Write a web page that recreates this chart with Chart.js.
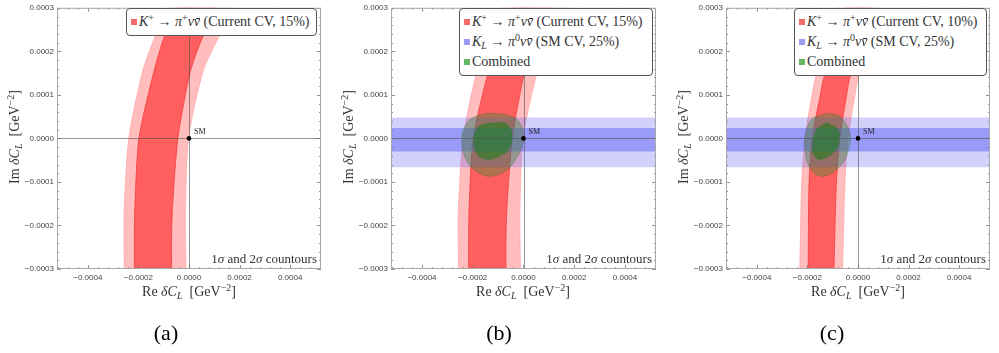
<!DOCTYPE html>
<html>
<head>
<meta charset="utf-8">
<script src="https://cdn.jsdelivr.net/npm/chart.js@4.4.1/dist/chart.umd.min.js"></script>
<style>
  body { margin: 0; background: #fff; width: 999px; height: 353px; position: relative; overflow: hidden;
         font-family: "Liberation Serif", "DejaVu Serif", serif; color: #333; }
  canvas { position: absolute; top: 0; }
  .t { position: absolute; white-space: nowrap; }
  .ytitle { font-size: 14px; transform: translate(-50%, -50%) rotate(-90deg); top: 137px; }
  .xtitle { font-size: 14px; transform: translate(-50%, -50%); top: 292px; }
  .cap { font-size: 22px; color: #000; transform: translate(-50%, -50%); top: 333px; }
  .note { font-size: 13px; line-height: 13px; top: 252px; }
  .legend { position: absolute; top: 8px; box-sizing: border-box; background: #fff;
            border: 1px solid #555; border-radius: 4px; padding: 3px 4px; font-size: 14px; }
  .legend div { height: 20px; line-height: 20px; white-space: nowrap; }
  .sw { display: inline-block; width: 6px; height: 6px; margin-right: 2px; vertical-align: 1px; }
  .bar { position: relative; }
  .bar::after { content: ''; position: absolute; left: 2px; right: 0; top: 0.3em; border-top: 1px solid #333; }
  sup, sub { font-size: 10px; line-height: 0; }
  sup { vertical-align: 0.5em; }
  sub { vertical-align: -0.25em; }
</style>
</head>
<body>
<canvas id="pa" width="333" height="353" style="left:0"></canvas>
<canvas id="pb" width="333" height="353" style="left:333px"></canvas>
<canvas id="pc" width="333" height="353" style="left:666px"></canvas>

<div class="t ytitle" style="left:15px">Im <i>δC<sub>L</sub></i>&nbsp; [GeV<sup>−2</sup>]</div>
<div class="t ytitle" style="left:349px">Im <i>δC<sub>L</sub></i>&nbsp; [GeV<sup>−2</sup>]</div>
<div class="t ytitle" style="left:684px">Im <i>δC<sub>L</sub></i>&nbsp; [GeV<sup>−2</sup>]</div>
<div class="t xtitle" style="left:189px">Re <i>δC<sub>L</sub></i>&nbsp; [GeV<sup>−2</sup>]</div>
<div class="t xtitle" style="left:523px">Re <i>δC<sub>L</sub></i>&nbsp; [GeV<sup>−2</sup>]</div>
<div class="t xtitle" style="left:858px">Re <i>δC<sub>L</sub></i>&nbsp; [GeV<sup>−2</sup>]</div>
<div class="t note" style="right:682px">1<i>σ</i> and 2<i>σ</i> countours</div>
<div class="t note" style="right:347px">1<i>σ</i> and 2<i>σ</i> countours</div>
<div class="t note" style="right:13px">1<i>σ</i> and 2<i>σ</i> countours</div>
<div class="t cap" style="left:166px">(a)</div>
<div class="t cap" style="left:499px">(b)</div>
<div class="t cap" style="left:832px">(c)</div>
<div class="legend" id="la" style="left:126px;width:191px"></div>
<div class="legend" id="lb" style="left:459px;width:194px"></div>
<div class="legend" id="lc" style="left:794px;width:193px"></div>

<script>
// axes
var xMin = -5.22e-4, xMax = 5.22e-4, yMin = -3e-4, yMax = 3e-4;
var xTicks = [-4e-4, -2e-4, 0, 2e-4, 4e-4];
var yTicks = [-3e-4, -2e-4, -1e-4, 0, 1e-4, 2e-4, 3e-4];
var xMinorStep = 0.4e-4, yMinorStep = 0.2e-4;

// K+ -> pi+ nu nu band, current CV 15% (panels a, b): edges read at these Im values
var bandY15  = [-3.0e-4, -2.24e-4, -1.57e-4, 0, 1.53e-4, 2.30e-4, 3.0e-4];
var outerL15 = [-2.56e-4, -2.57e-4, -2.56e-4, -2.38e-4, -1.84e-4, -1.37e-4, -0.82e-4];
var innerL15 = [-2.16e-4, -2.16e-4, -2.14e-4, -1.98e-4, -1.39e-4, -1.00e-4, -0.50e-4];
var innerR15 = [-0.69e-4, -0.69e-4, -0.65e-4, -0.44e-4, 0.05e-4, 0.52e-4, 1.10e-4];
var outerR15 = [-0.12e-4, -0.14e-4, -0.14e-4, -0.02e-4, 0.55e-4, 1.15e-4, 1.85e-4];

// same band, current CV 10% (panel c)
var bandY10  = [-3.0e-4, -1.10e-4, 0, 0.96e-4, 1.35e-4, 2.30e-4, 3.0e-4];
var outerL10 = [-2.30e-4, -2.23e-4, -2.10e-4, -1.83e-4, -1.70e-4, -1.23e-4, -0.83e-4];
var innerL10 = [-1.97e-4, -1.94e-4, -1.82e-4, -1.50e-4, -1.37e-4, -0.87e-4, -0.48e-4];
var innerR10 = [-0.95e-4, -0.86e-4, -0.72e-4, -0.46e-4, -0.34e-4, 0.13e-4, 0.59e-4];
var outerR10 = [-0.61e-4, -0.52e-4, -0.40e-4, -0.13e-4, -0.01e-4, 0.47e-4, 0.95e-4];

// K_L -> pi0 nu nu band (SM CV, 25%): Im limits
var klOuter = [-0.66e-4, 0.48e-4];
var klInner = [-0.30e-4, 0.24e-4];

// combined contours
var combOuterBx = [-1.44e-4, -0.65e-4, -0.19e-4, 0.01e-4, -0.05e-4, -0.32e-4, -0.71e-4, -1.31e-4, -1.77e-4, -2.23e-4, -2.43e-4, -2.36e-4, -2.03e-4];
var combOuterBy = [0.58e-4, 0.54e-4, 0.39e-4, 0.05e-4, -0.18e-4, -0.49e-4, -0.75e-4, -0.87e-4, -0.79e-4, -0.52e-4, -0.11e-4, 0.20e-4, 0.46e-4];
var combInnerBx = [-1.44e-4, -0.84e-4, -0.51e-4, -0.45e-4, -0.58e-4, -0.91e-4, -1.37e-4, -1.77e-4, -1.97e-4, -1.90e-4, -1.70e-4];
var combInnerBy = [0.35e-4, 0.37e-4, 0.24e-4, -0.03e-4, -0.26e-4, -0.41e-4, -0.49e-4, -0.41e-4, -0.14e-4, 0.16e-4, 0.31e-4];
var combOuterCx = [-1.18e-4, -0.71e-4, -0.32e-4, -0.38e-4, -0.65e-4, -1.37e-4, -1.90e-4, -2.10e-4, -2.03e-4, -1.77e-4];
var combOuterCy = [0.58e-4, 0.50e-4, 0.12e-4, -0.26e-4, -0.60e-4, -0.87e-4, -0.68e-4, -0.18e-4, 0.20e-4, 0.46e-4];
var combInnerCx = [-1.24e-4, -0.78e-4, -0.74e-4, -0.91e-4, -1.50e-4, -1.77e-4, -1.79e-4, -1.64e-4];
var combInnerCy = [0.37e-4, 0.20e-4, -0.07e-4, -0.30e-4, -0.49e-4, -0.37e-4, -0.11e-4, 0.20e-4];

var smPoint = [0, 0];

var nuNuBar = '<i>ν<span class="bar">ν</span></i>';
var kpLabel15 = '<i>K</i><sup>+</sup> → <i>π</i><sup>+</sup>' + nuNuBar + ' (Current CV, 15%)';
var kpLabel10 = '<i>K</i><sup>+</sup> → <i>π</i><sup>+</sup>' + nuNuBar + ' (Current CV, 10%)';
var klLabel = '<i>K<sub>L</sub></i> → <i>π</i><sup>0</sup>' + nuNuBar + ' (SM CV, 25%)';
var combLabel = 'Combined';

var redLight = '#ffbdbd', redDark = '#ff5f5f';
var blueLight = 'rgba(90,90,245,0.28)', blueDark = 'rgba(90,90,245,0.46)';
var greenOuter = 'rgba(50,140,50,0.38)', greenInner = 'rgba(20,130,20,0.55)';
var swRed = '#f46a6a', swBlue = '#9c9cf2', swGreen = '#62b962';

function pts(xs, ys) { return xs.map(function (x, i) { return {x: x, y: ys[i]}; }); }
function bandPts(ys, left, right) { return pts(left, ys).concat(pts(right, ys).reverse()); }
function loopPts(xs, ys) { var p = pts(xs, ys); p.push(p[0]); return p; }
function stripPts(lim) {
  return [{x: xMin, y: lim[0]}, {x: xMax, y: lim[0]}, {x: xMax, y: lim[1]}, {x: xMin, y: lim[1]}];
}
function shape(data, color, line, tension, order) {
  return {
    data: data, showLine: true, fill: 'shape', backgroundColor: color,
    borderColor: line || 'rgba(0,0,0,0)', borderWidth: line ? 0.8 : 0,
    pointRadius: 0, pointHoverRadius: 0, tension: tension, order: order
  };
}
function fmt(v) { return Math.abs(v) < 1e-12 ? '0.0000' : v.toFixed(4).replace('-', '\u2212'); }

// frame, inward ticks, axes through origin, SM label
var framePlugin = {
  id: 'frame',
  beforeDatasetDraw: function (chart, args) {
    if (args.index !== chart.data.datasets.length - 1) return;
    var ctx = chart.ctx, a = chart.chartArea;
    var x0 = Math.round(chart.scales.x.getPixelForValue(0)) + 0.5;
    var y0 = Math.round(chart.scales.y.getPixelForValue(0)) + 0.5;
    ctx.save();
    ctx.strokeStyle = 'rgba(80,80,80,0.75)';
    ctx.lineWidth = 0.8;
    ctx.beginPath();
    ctx.moveTo(x0, a.top); ctx.lineTo(x0, a.bottom);
    ctx.moveTo(a.left, y0); ctx.lineTo(a.right, y0);
    ctx.stroke();
    ctx.restore();
  },
  afterDatasetsDraw: function (chart) {
    var ctx = chart.ctx, a = chart.chartArea, xs = chart.scales.x, ys = chart.scales.y;
    ctx.save();
    ctx.strokeStyle = '#666';
    ctx.lineWidth = 0.7;
    ctx.beginPath();
    var v, p, len;
    for (v = xTicks[0] - 2 * xMinorStep * 5; v <= xMax; v += xMinorStep) {
      if (v < xMin) continue;
      p = Math.round(xs.getPixelForValue(v)) + 0.5;
      len = Math.abs(v / 2e-4 - Math.round(v / 2e-4)) < 1e-6 ? 4 : 2;
      ctx.moveTo(p, a.bottom); ctx.lineTo(p, a.bottom - len);
      ctx.moveTo(p, a.top); ctx.lineTo(p, a.top + len);
    }
    for (v = yMin; v <= yMax + 1e-12; v += yMinorStep) {
      p = Math.round(ys.getPixelForValue(v)) + 0.5;
      len = Math.abs(v / 1e-4 - Math.round(v / 1e-4)) < 1e-6 ? 4 : 2;
      ctx.moveTo(a.left, p); ctx.lineTo(a.left + len, p);
      ctx.moveTo(a.right, p); ctx.lineTo(a.right - len, p);
    }
    ctx.stroke();
    ctx.strokeStyle = '#a8a8a8';
    ctx.lineWidth = 1;
    ctx.strokeRect(a.left + 0.5, a.top + 0.5, a.width - 1, a.height - 1);
    ctx.fillStyle = '#222';
    ctx.font = '8px "Liberation Serif", serif';
    ctx.textBaseline = 'middle';
    ctx.fillText('SM', xs.getPixelForValue(smPoint[0]) + 5, ys.getPixelForValue(smPoint[1]) - 6);
    ctx.restore();
  }
};

function makeChart(id, datasets, yWidth, rightPad) {
  var tickFont = {family: '"Liberation Sans", Arial, sans-serif', size: 8};
  return new Chart(document.getElementById(id), {
    type: 'scatter',
    data: {datasets: datasets},
    options: {
      responsive: false, animation: false,
      layout: {padding: {left: 0, right: rightPad, top: 6, bottom: 70}},
      plugins: {legend: {display: false}, tooltip: {enabled: false}},
      events: [],
      scales: {
        x: {
          type: 'linear', min: xMin, max: xMax,
          grid: {display: false, drawTicks: false}, border: {display: false},
          afterBuildTicks: function (s) { s.ticks = xTicks.map(function (v) { return {value: v}; }); },
          afterFit: function (s) { s.height = 14; },
          ticks: {font: tickFont, color: '#444', padding: 4, maxRotation: 0, autoSkip: false, callback: fmt}
        },
        y: {
          type: 'linear', min: yMin, max: yMax,
          grid: {display: false, drawTicks: false}, border: {display: false},
          afterBuildTicks: function (s) { s.ticks = yTicks.map(function (v) { return {value: v}; }); },
          afterFit: function (s) { s.width = yWidth; },
          ticks: {font: tickFont, color: '#444', padding: 3, autoSkip: false, callback: fmt}
        }
      }
    },
    plugins: [framePlugin]
  });
}

function kpBand(ys, oL, iL, iR, oR) {
  return [
    shape(bandPts(ys, oL, oR), redLight, '#ffaaaa', 0.25, 9),
    shape(bandPts(ys, iL, iR), redDark, '#f23c3c', 0.25, 8)
  ];
}
function klBand() {
  return [shape(stripPts(klOuter), blueLight, null, 0, 7), shape(stripPts(klInner), blueDark, null, 0, 6)];
}
function combined(ox, oy, ix, iy) {
  return [
    shape(loopPts(ox, oy), greenOuter, 'rgba(60,110,50,0.45)', 0.4, 5),
    shape(loopPts(ix, iy), greenInner, null, 0.4, 4)
  ];
}
function smSet() {
  return {data: [{x: smPoint[0], y: smPoint[1]}], pointRadius: 2.3, backgroundColor: '#000',
          borderWidth: 0, order: 1};
}

makeChart('pa', kpBand(bandY15, outerL15, innerL15, innerR15, outerR15).concat([smSet()]), 57, 12);
makeChart('pb', kpBand(bandY15, outerL15, innerL15, innerR15, outerR15).concat(klBand(),
  combined(combOuterBx, combOuterBy, combInnerBx, combInnerBy), [smSet()]), 58, 10);
makeChart('pc', kpBand(bandY10, outerL10, innerL10, innerR10, outerR10).concat(klBand(),
  combined(combOuterCx, combOuterCy, combInnerCx, combInnerCy), [smSet()]), 60, 9);

function legend(id, items) {
  document.getElementById(id).innerHTML = items.map(function (it) {
    return '<div><span class="sw" style="background:' + it[1] + '"></span>' + it[0] + '</div>';
  }).join('');
}
legend('la', [[kpLabel15, swRed]]);
legend('lb', [[kpLabel15, swRed], [klLabel, swBlue], [combLabel, swGreen]]);
legend('lc', [[kpLabel10, swRed], [klLabel, swBlue], [combLabel, swGreen]]);
</script>
</body>
</html>
